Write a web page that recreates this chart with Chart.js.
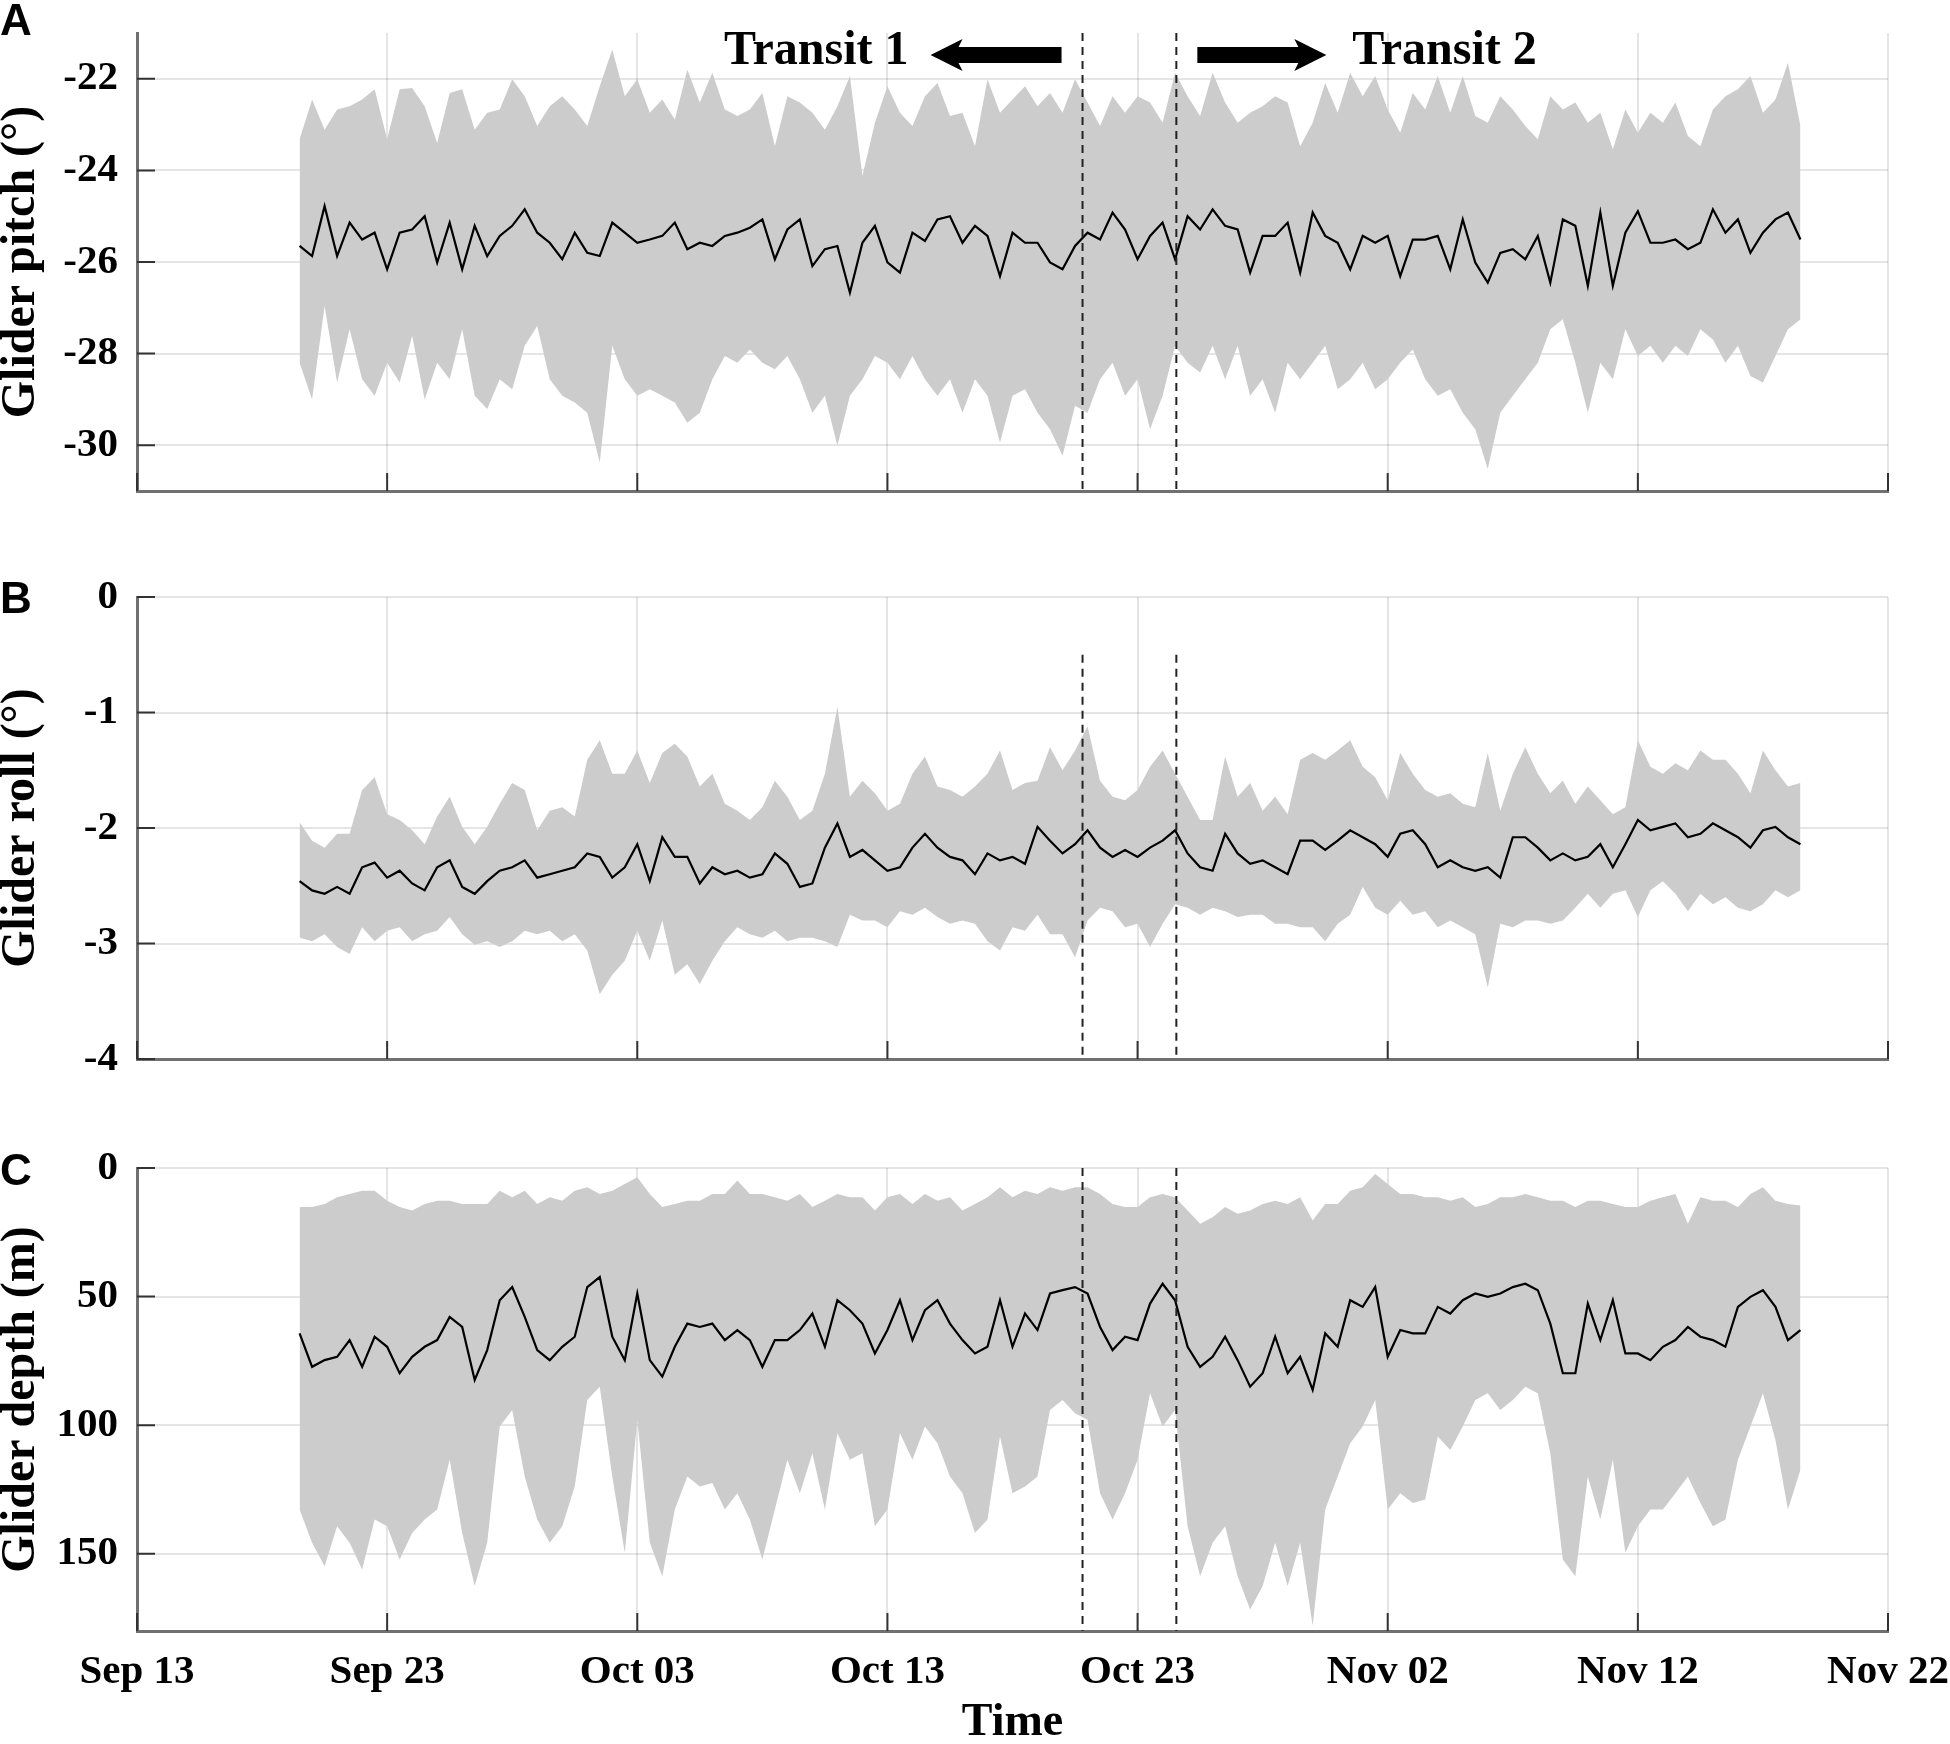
<!DOCTYPE html>
<html>
<head>
<meta charset="utf-8">
<title>Glider pitch, roll and depth</title>
<script src="https://cdn.jsdelivr.net/npm/chart.js@4.4.1/dist/chart.umd.min.js"></script>
<style>
html,body{margin:0;padding:0;background:#fff;}
#wrap{position:relative;width:1950px;height:1744px;overflow:hidden;background:#fff;}
canvas{position:absolute;left:0;}
.tag{position:absolute;left:0;font:bold 44px "Liberation Sans",Arial,sans-serif;line-height:1;color:#000;}
</style>
</head>
<body>
<div id="wrap">
  <canvas id="pitchChart" width="1950" height="520" style="top:0px"></canvas>
  <canvas id="rollChart" width="1950" height="540" style="top:560px"></canvas>
  <canvas id="depthChart" width="1950" height="614" style="top:1130px"></canvas>
  <div class="tag" style="top:-2px">A</div>
  <div class="tag" style="top:576px">B</div>
  <div class="tag" style="top:1148px">C</div>
</div>
<script>
"use strict";
// x axis: days since Sep 13
const xTickDays=[0,10,20,30,40,50,60,70];
const xTickLabels=["Sep 13","Sep 23","Oct 03","Oct 13","Oct 23","Nov 02","Nov 12","Nov 22"];
// samples every half day from Sep 19 12:00
const sampleStartDay=6.5;
const sampleStepDays=0.5;
// dashed lines, start/end of the transits
const transitDays=[37.8,41.55];

const pitchTicks=[-30,-28,-26,-24,-22];
const rollTicks=[-4,-3,-2,-1,0];
const depthTicks=[0,50,100,150];

// glider pitch (deg)
const pitchMean=[-25.65,-25.87,-24.78,-25.87,-25.14,-25.51,-25.36,-26.16,-25.36,-25.29,
-25.00,-26.01,-25.14,-26.16,-25.21,-25.87,-25.43,-25.21,-24.85,-25.36,
-25.58,-25.94,-25.36,-25.80,-25.87,-25.14,-25.36,-25.58,-25.51,-25.43,
-25.14,-25.72,-25.58,-25.65,-25.43,-25.36,-25.25,-25.07,-25.94,-25.29,
-25.07,-26.09,-25.72,-25.65,-26.67,-25.58,-25.21,-26.01,-26.23,-25.36,
-25.54,-25.07,-25.00,-25.58,-25.21,-25.43,-26.31,-25.36,-25.58,-25.58,
-26.01,
-26.16,-25.65,-25.36,-25.51,-24.92,-25.29,-25.94,-25.43,-25.14,-25.94,
-25.00,-25.29,-24.85,-25.21,-25.29,-26.23,-25.43,-25.43,-25.14,-26.23,
-24.92,-25.43,-25.58,-26.16,-25.43,-25.58,-25.43,-26.31,-25.51,-25.51,
-25.43,-26.16,-25.07,-26.01,-26.45,-25.80,-25.72,-25.94,-25.43,-26.45,
-25.07,-25.21,-26.52,-24.92,-26.52,-25.36,-24.89,-25.58,-25.58,-25.51,
-25.72,-25.58,-24.85,-25.36,-25.07,-25.80,-25.36,-25.07,-24.92,-25.51];
const pitchUpper=[-23.32,-22.45,-23.11,-22.67,-22.60,-22.45,-22.23,-23.32,-22.23,-22.20,
-22.60,-23.40,-22.31,-22.23,-23.11,-22.74,-22.67,-22.01,-22.38,-23.03,
-22.60,-22.38,-22.67,-23.03,-22.16,-21.36,-22.38,-22.01,-22.74,-22.45,
-22.89,-21.80,-22.52,-21.87,-22.67,-22.81,-22.67,-22.31,-23.47,-22.38,
-22.52,-22.74,-23.11,-22.60,-21.94,-24.12,-22.96,-22.16,-22.74,-23.03,
-22.38,-22.09,-22.81,-22.74,-23.47,-22.01,-22.74,-22.45,-22.16,-22.60,
-22.31,
-22.74,-22.01,-22.52,-23.03,-22.38,-22.74,-22.38,-22.52,-22.96,-21.87,
-22.38,-22.81,-21.87,-22.52,-22.96,-22.74,-22.60,-22.38,-22.52,-23.47,
-22.96,-22.09,-22.74,-21.87,-22.38,-21.94,-22.67,-23.18,-22.31,-22.67,
-21.94,-22.74,-21.94,-22.81,-22.96,-22.38,-22.67,-23.03,-23.32,-22.38,
-22.67,-22.52,-22.96,-22.74,-23.54,-22.67,-23.18,-22.74,-22.96,-22.52,
-23.25,-23.47,-22.67,-22.38,-22.23,-21.94,-22.74,-22.45,-21.65,-23.03];
const pitchLower=[-28.20,-29.00,-26.96,-28.63,-27.47,-28.56,-28.92,-28.20,-28.63,-27.61,
-29.00,-28.20,-28.56,-27.47,-28.92,-29.21,-28.56,-28.78,-27.83,-27.40,
-28.56,-28.92,-29.07,-29.29,-30.38,-27.83,-28.56,-28.92,-28.78,-28.92,
-29.07,-29.51,-29.29,-28.56,-28.05,-28.20,-27.91,-28.20,-28.34,-28.05,
-28.56,-29.29,-28.92,-30.01,-28.92,-28.56,-28.05,-28.20,-28.56,-28.05,
-28.56,-28.92,-28.56,-29.29,-28.56,-28.92,-29.94,-28.92,-28.78,-29.29,
-29.65,
-30.23,-29.14,-29.29,-28.56,-28.20,-28.92,-28.56,-29.65,-28.92,-27.83,
-28.20,-28.41,-27.83,-28.56,-27.83,-28.92,-28.56,-29.29,-28.20,-28.56,
-28.20,-27.83,-28.78,-28.56,-28.20,-28.78,-28.56,-28.20,-27.91,-28.56,
-28.92,-28.78,-29.29,-29.65,-30.52,-29.29,-28.92,-28.56,-28.20,-27.47,
-27.25,-28.20,-29.29,-28.20,-28.56,-27.47,-28.05,-27.83,-28.20,-27.83,
-28.05,-27.47,-27.69,-28.20,-27.83,-28.49,-28.63,-28.05,-27.47,-27.25];

// glider roll (deg)
const rollMean=[-2.46,-2.54,-2.57,-2.51,-2.57,-2.34,-2.30,-2.43,-2.37,-2.48,
-2.54,-2.34,-2.28,-2.51,-2.57,-2.46,-2.37,-2.34,-2.28,-2.43,
-2.40,-2.37,-2.34,-2.22,-2.25,-2.43,-2.34,-2.14,-2.46,-2.08,
-2.25,-2.25,-2.48,-2.34,-2.40,-2.37,-2.43,-2.40,-2.22,-2.31,
-2.51,-2.48,-2.17,-1.96,-2.25,-2.19,-2.28,-2.37,-2.34,-2.17,
-2.05,-2.17,-2.25,-2.28,-2.40,-2.22,-2.28,-2.25,-2.31,-1.99,
-2.11,
-2.22,-2.14,-2.02,-2.17,-2.25,-2.19,-2.25,-2.17,-2.11,-2.02,
-2.22,-2.34,-2.37,-2.05,-2.22,-2.31,-2.28,-2.34,-2.40,-2.11,
-2.11,-2.19,-2.11,-2.02,-2.08,-2.14,-2.25,-2.05,-2.02,-2.14,
-2.34,-2.28,-2.34,-2.37,-2.34,-2.43,-2.08,-2.08,-2.17,-2.28,
-2.22,-2.28,-2.25,-2.14,-2.34,-2.14,-1.93,-2.02,-1.99,-1.96,
-2.08,-2.05,-1.96,-2.02,-2.08,-2.17,-2.02,-1.99,-2.08,-2.14];
const rollUpper=[-1.95,-2.11,-2.17,-2.05,-2.05,-1.67,-1.56,-1.88,-1.93,-2.02,
-2.14,-1.90,-1.73,-1.99,-2.14,-1.99,-1.79,-1.61,-1.67,-2.02,
-1.85,-1.82,-1.90,-1.41,-1.24,-1.53,-1.53,-1.33,-1.61,-1.35,
-1.27,-1.38,-1.64,-1.53,-1.79,-1.85,-1.93,-1.82,-1.59,-1.73,
-1.93,-1.85,-1.53,-0.95,-1.73,-1.59,-1.70,-1.85,-1.79,-1.53,
-1.38,-1.64,-1.67,-1.73,-1.64,-1.53,-1.33,-1.67,-1.61,-1.59,
-1.30,
-1.50,-1.33,-1.12,-1.59,-1.73,-1.76,-1.67,-1.47,-1.33,-1.53,
-1.73,-1.93,-1.93,-1.38,-1.73,-1.61,-1.85,-1.73,-1.88,-1.41,
-1.35,-1.41,-1.33,-1.24,-1.47,-1.56,-1.76,-1.35,-1.53,-1.67,
-1.73,-1.70,-1.79,-1.82,-1.35,-1.85,-1.53,-1.30,-1.53,-1.70,
-1.59,-1.79,-1.64,-1.76,-1.88,-1.82,-1.24,-1.47,-1.53,-1.44,
-1.50,-1.33,-1.41,-1.41,-1.53,-1.70,-1.33,-1.50,-1.64,-1.61];
const rollLower=[-2.95,-2.98,-2.92,-3.03,-3.09,-2.86,-2.98,-2.89,-2.86,-2.98,
-2.92,-2.89,-2.77,-2.92,-3.01,-2.98,-3.03,-2.98,-2.89,-2.92,
-2.89,-2.98,-2.92,-3.06,-3.44,-3.27,-3.15,-2.89,-3.15,-2.80,
-3.27,-3.18,-3.35,-3.15,-2.98,-2.86,-2.92,-2.95,-2.89,-2.98,
-2.95,-2.95,-2.98,-3.03,-2.75,-2.80,-2.80,-2.86,-2.72,-2.75,
-2.69,-2.77,-2.83,-2.80,-2.83,-2.98,-3.06,-2.86,-2.89,-2.75,
-2.92,
-2.92,-3.12,-2.80,-2.69,-2.72,-2.86,-2.83,-3.03,-2.83,-2.66,
-2.69,-2.75,-2.69,-2.72,-2.77,-2.75,-2.75,-2.83,-2.83,-2.86,
-2.86,-2.98,-2.83,-2.75,-2.51,-2.69,-2.75,-2.63,-2.75,-2.72,
-2.86,-2.80,-2.86,-2.92,-3.38,-2.83,-2.86,-2.80,-2.80,-2.83,
-2.80,-2.69,-2.57,-2.69,-2.57,-2.54,-2.77,-2.54,-2.46,-2.57,
-2.72,-2.57,-2.66,-2.60,-2.69,-2.72,-2.66,-2.54,-2.60,-2.54];

// glider depth (m)
const depthMean=[64.3,77.3,74.7,73.4,66.9,77.3,65.6,69.5,79.8,73.4,
69.5,66.9,57.9,61.8,82.4,70.8,51.4,46.3,57.9,70.8,
74.7,69.5,65.6,46.3,42.4,65.6,74.7,48.8,74.7,81.1,
69.5,60.5,61.8,60.5,66.9,63.0,66.9,77.3,66.9,66.9,
63.0,56.6,69.5,51.4,55.3,60.5,72.1,63.0,51.4,66.9,
55.3,51.4,60.5,66.9,72.1,69.5,51.4,69.5,56.6,63.0,
48.8,
47.5,46.3,48.8,61.8,70.8,65.6,66.9,52.7,45.0,51.4,
69.5,77.3,73.4,65.6,74.7,85.0,79.8,65.6,79.8,73.4,
86.3,64.3,69.5,51.4,54.0,46.3,73.4,63.0,64.3,64.3,
54.0,56.6,51.4,48.8,50.1,48.8,46.3,45.0,47.5,60.5,
79.8,79.8,52.7,66.9,51.4,72.1,72.1,74.7,69.5,66.9,
61.8,65.6,66.9,69.5,54.0,50.1,47.5,54.0,66.9,63.0];
const depthUpper=[15.2,15.2,14.0,11.4,10.1,8.8,8.8,12.7,15.2,16.5,
14.0,12.7,12.7,14.0,14.0,14.0,8.8,11.4,8.8,14.0,
11.4,12.7,8.8,7.5,10.1,8.8,6.2,3.6,10.1,15.2,
14.0,12.7,12.7,10.1,10.1,4.9,10.1,10.1,11.4,12.7,
10.1,15.2,12.7,10.1,11.4,11.4,16.5,11.4,10.1,14.0,
10.1,12.7,11.4,16.5,14.0,11.4,7.5,11.4,8.8,10.1,
7.5,
8.8,7.5,7.5,10.1,14.0,15.2,15.2,11.4,10.1,11.4,
16.5,21.7,19.1,15.2,17.8,16.5,14.0,12.7,14.0,11.4,
20.4,14.0,14.0,8.8,7.5,2.3,6.2,10.1,10.1,11.4,
11.4,12.7,11.4,15.2,14.0,11.4,11.4,10.1,11.4,12.7,
12.7,15.2,12.7,12.7,14.0,15.2,15.2,12.7,11.4,10.1,
21.7,11.4,12.7,12.7,15.2,10.1,7.5,12.7,14.0,14.6];
const depthLower=[132.8,145.7,154.8,139.3,145.7,156.1,136.7,139.3,152.2,141.9,
136.7,132.8,113.4,141.9,162.5,145.7,100.5,94.1,119.9,136.7,
145.7,139.3,123.8,90.2,85.0,119.9,149.6,97.9,145.7,158.7,
132.8,119.9,123.8,122.5,132.8,126.4,136.7,152.2,132.8,113.4,
126.4,110.9,132.8,103.1,113.4,110.9,139.3,132.8,103.1,113.4,
100.5,107.0,119.9,126.4,141.9,136.7,104.4,126.4,123.8,119.9,
94.1,
90.2,95.3,97.9,126.4,136.7,126.4,113.4,87.6,100.5,94.1,
139.3,158.7,145.7,139.3,158.7,171.6,162.5,145.7,162.5,145.7,
178.0,132.8,119.9,107.0,100.5,90.2,132.8,126.4,130.2,128.9,
104.4,109.6,100.5,90.2,87.6,94.1,90.2,85.0,87.6,110.9,
152.2,158.7,119.9,136.7,113.4,149.6,139.3,132.8,132.8,126.4,
119.9,130.2,139.3,136.7,113.4,100.5,87.6,105.7,132.8,117.3];

const serif='"Liberation Serif","Times New Roman",serif';
const gridColor="rgba(0,0,0,0.1)";
const axisColor="#707070";
const bandColor="#cccccc";

function toPoints(values){
    return values.map((v,i)=>({x:sampleStartDay+i*sampleStepDays,y:v}));
}

function drawArrow(ctx,tailX,tipX,y){
    const dir=tipX>tailX?1:-1;
    const headLen=28,shaft=8,head=16;
    const baseX=tipX-dir*headLen;
    ctx.beginPath();
    ctx.moveTo(tailX,y-shaft);
    ctx.lineTo(baseX,y-shaft);
    ctx.lineTo(baseX-dir*4,y-head);
    ctx.lineTo(tipX,y);
    ctx.lineTo(baseX-dir*4,y+head);
    ctx.lineTo(baseX,y+shaft);
    ctx.lineTo(tailX,y+shaft);
    ctx.closePath();
    ctx.fill();
}

//刻度线朝内、虚线、Transit标注
const overlayPlugin={
    id:"overlay",
    afterDraw(chart,args,opts){
        const {ctx,chartArea}=chart;
        const xs=chart.scales.x,ys=chart.scales.y;
        ctx.save();
        ctx.strokeStyle="#333";
        ctx.lineWidth=2;
        ctx.beginPath();
        for(const t of xs.ticks){
            const px=xs.getPixelForValue(t.value);
            ctx.moveTo(px,chartArea.bottom);
            ctx.lineTo(px,chartArea.bottom-18);
        }
        for(const t of ys.ticks){
            const py=ys.getPixelForValue(t.value);
            ctx.moveTo(chartArea.left,py);
            ctx.lineTo(chartArea.left+18,py);
        }
        ctx.stroke();

        ctx.setLineDash([8,6]);
        ctx.strokeStyle="#222";
        ctx.lineWidth=2;
        const top=opts.dashFrom==null?chartArea.top:ys.getPixelForValue(opts.dashFrom);
        for(const d of transitDays){
            const px=xs.getPixelForValue(d);
            ctx.beginPath();
            ctx.moveTo(px,top);
            ctx.lineTo(px,chartArea.bottom);
            ctx.stroke();
        }
        ctx.setLineDash([]);

        if(opts.transit){
            const d1=xs.getPixelForValue(transitDays[0]);
            const d2=xs.getPixelForValue(transitDays[1]);
            const ay=55;
            ctx.fillStyle="#000";
            drawArrow(ctx,d1-21,d1-152,ay);
            drawArrow(ctx,d2+21,d2+150,ay);
            ctx.font="bold 48px "+serif;
            ctx.textBaseline="middle";
            ctx.textAlign="right";
            ctx.fillText("Transit 1",d1-174,52);
            ctx.textAlign="left";
            ctx.fillText("Transit 2",d2+176,52);
        }
        ctx.restore();
    }
};

function makePanel(canvasId,p){
    const datasets=[
        {data:toPoints(p.mean),borderColor:"#000",borderWidth:2.2,pointRadius:0,fill:false,tension:0},
        {data:toPoints(p.upper),borderColor:"rgba(0,0,0,0)",borderWidth:1,pointRadius:0,fill:false},
        {data:toPoints(p.lower),borderColor:"rgba(0,0,0,0)",borderWidth:1,pointRadius:0,fill:{target:1},backgroundColor:bandColor}
    ];
    const options={
        responsive:false,
        animation:false,
        devicePixelRatio:1,
        layout:{padding:{top:p.padTop,right:62,left:0,bottom:0}},
        plugins:{
            legend:{display:false},
            tooltip:{enabled:false},
            filler:{drawTime:"beforeDatasetsDraw"},
            overlay:{dashFrom:p.dashFrom,transit:p.transit}
        },
        scales:{
            x:{
                type:"linear",min:0,max:70,z:1,
                afterBuildTicks:s=>{s.ticks=xTickDays.map(v=>({value:v}));},
                afterFit:s=>{s.height=p.xHeight;s.paddingLeft=0;s.paddingRight=0;},
                grid:{color:gridColor,lineWidth:2,drawTicks:false},
                border:{display:true,color:axisColor,width:3},
                ticks:{
                    display:p.showX,padding:17,color:"#000",maxRotation:0,autoSkip:false,
                    font:{family:serif,size:41,weight:"bold"},
                    callback:v=>xTickLabels[xTickDays.indexOf(v)]
                },
                title:{display:p.showX,text:"Time",color:"#000",padding:0,
                    font:{family:serif,size:46,weight:"bold",lineHeight:0.9}}
            },
            y:{
                type:"linear",min:p.min,max:p.max,reverse:!!p.reverse,z:1,
                afterBuildTicks:s=>{s.ticks=p.ticks.map(v=>({value:v}));},
                afterFit:s=>{s.width=137;s.paddingTop=0;s.paddingBottom=0;},
                grid:{color:gridColor,lineWidth:2,drawTicks:false},
                border:{display:true,color:axisColor,width:3},
                ticks:{padding:19,color:"#000",font:{family:serif,size:41,weight:"bold"}},
                title:{display:true,text:p.title,color:"#000",padding:0,
                    font:{family:serif,size:48,weight:"bold",lineHeight:0.9}}
            }
        }
    };
    return new Chart(document.getElementById(canvasId),{
        type:"line",
        data:{datasets},
        options,
        plugins:[overlayPlugin]
    });
}

makePanel("pitchChart",{mean:pitchMean,upper:pitchUpper,lower:pitchLower,
    min:-31,max:-21,ticks:pitchTicks,title:"Glider pitch (°)",
    padTop:33,xHeight:29,showX:false,dashFrom:null,transit:true});
makePanel("rollChart",{mean:rollMean,upper:rollUpper,lower:rollLower,
    min:-4,max:0,ticks:rollTicks,title:"Glider roll (°)",
    padTop:37,xHeight:41,showX:false,dashFrom:-0.5,transit:false});
makePanel("depthChart",{mean:depthMean,upper:depthUpper,lower:depthLower,
    min:0,max:180,reverse:true,ticks:depthTicks,title:"Glider depth (m)",
    padTop:38,xHeight:113,showX:true,dashFrom:null,transit:false});
</script>
</body>
</html>
